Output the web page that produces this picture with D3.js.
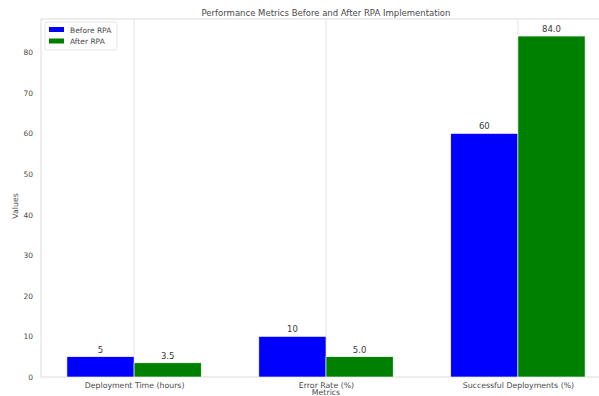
<!DOCTYPE html>
<html>
<head>
<meta charset="utf-8">
<script src="https://cdn.jsdelivr.net/npm/d3@7"></script>
<style>
  body { margin: 0; background: #fff; }
  svg { font-family: "DejaVu Sans", sans-serif; display: block; }
</style>
</head>
<body>
<div id="chart"></div>
<script>
// chart data
const metrics = ["Deployment Time (hours)", "Error Rate (%)", "Successful Deployments (%)"];
const beforeValues = [5, 10, 60];
const afterValues = [3.5, 5.0, 84.0];
const beforeLabels = ["5", "10", "60"];
const afterLabels = ["3.5", "5.0", "84.0"];
const yTicks = [0, 10, 20, 30, 40, 50, 60, 70, 80];
const seriesNames = ["Before RPA", "After RPA"];
const seriesColors = ["#0000ff", "#008000"];

const width = 599;
const height = 396;
// plot area runs past the right edge (reference image is cropped)
const plotLeft = 41, plotRight = 611, plotTop = 19, plotBottom = 377;
const barWidth = 0.35;

const svg = d3.select("#chart").append("svg")
  .attr("width", width)
  .attr("height", height);

const x = d3.scaleLinear()
  .domain([-0.485, metrics.length - 1 + 0.485])
  .range([plotLeft, plotRight]);

const y = d3.scaleLinear()
  .domain([0, 84 * 1.05])
  .range([plotBottom, plotTop]);

// vertical grid lines at the category ticks
svg.append("g")
  .selectAll("line")
  .data(metrics)
  .enter()
  .append("line")
  .attr("x1", (d, i) => x(i))
  .attr("x2", (d, i) => x(i))
  .attr("y1", plotTop)
  .attr("y2", plotBottom)
  .attr("stroke", "#e3e3e3")
  .attr("stroke-width", 1);

// frame
svg.append("rect")
  .attr("x", plotLeft)
  .attr("y", plotTop)
  .attr("width", plotRight - plotLeft)
  .attr("height", plotBottom - plotTop)
  .attr("fill", "none")
  .attr("stroke", "#dcdcdc")
  .attr("stroke-width", 1);

const series = [beforeValues, afterValues];
const labels = [beforeLabels, afterLabels];

series.forEach((values, s) => {
  const offset = s === 0 ? -barWidth / 2 : barWidth / 2;
  svg.append("g")
    .selectAll("rect")
    .data(values)
    .enter()
    .append("rect")
    .attr("x", (d, i) => x(i + offset - barWidth / 2))
    .attr("width", x(barWidth) - x(0))
    .attr("y", (d) => y(d))
    .attr("height", (d) => y(0) - y(d))
    .attr("fill", seriesColors[s])
    .attr("stroke", "#ffffff")
    .attr("stroke-width", 0.6);

  svg.append("g")
    .selectAll("text")
    .data(values)
    .enter()
    .append("text")
    .attr("x", (d, i) => x(i + offset))
    .attr("y", (d) => y(d) - 4)
    .attr("text-anchor", "middle")
    .attr("font-size", "8.5px")
    .attr("fill", "#3a3a3a")
    .text((d, i) => labels[s][i]);
});

// y axis
const yAxis = svg.append("g")
  .attr("transform", `translate(${plotLeft},0)`)
  .call(d3.axisLeft(y).tickValues(yTicks).tickSize(0).tickPadding(8));
yAxis.select(".domain").remove();
yAxis.selectAll("text")
  .attr("font-size", "7.5px")
  .attr("fill", "#4a4a4a")
  .attr("font-family", "DejaVu Sans, sans-serif");

// x axis
const xAxis = svg.append("g")
  .attr("transform", `translate(0,${plotBottom})`)
  .call(d3.axisBottom(x).tickValues(d3.range(metrics.length)).tickFormat((d) => metrics[d]).tickSize(0).tickPadding(5));
xAxis.select(".domain").remove();
xAxis.selectAll("text")
  .attr("font-size", "7.8px")
  .attr("fill", "#4a4a4a")
  .attr("font-family", "DejaVu Sans, sans-serif");

// axis titles
svg.append("text")
  .attr("x", (plotLeft + plotRight) / 2)
  .attr("y", 395)
  .attr("text-anchor", "middle")
  .attr("font-size", "7.8px")
  .attr("fill", "#4a4a4a")
  .text("Metrics");

svg.append("text")
  .attr("transform", `translate(18,${(plotTop + plotBottom) / 2 + 8}) rotate(-90)`)
  .attr("text-anchor", "middle")
  .attr("font-size", "7.8px")
  .attr("fill", "#4a4a4a")
  .text("Values");

svg.append("text")
  .attr("x", (plotLeft + plotRight) / 2)
  .attr("y", 16)
  .attr("text-anchor", "middle")
  .attr("font-size", "8.5px")
  .attr("fill", "#4a4a4a")
  .text("Performance Metrics Before and After RPA Implementation");

// legend
const legend = svg.append("g").attr("transform", `translate(45,22)`);
legend.append("rect")
  .attr("width", 72)
  .attr("height", 28)
  .attr("rx", 2)
  .attr("fill", "#fff")
  .attr("stroke", "#e4e4e4");
seriesNames.forEach((name, i) => {
  legend.append("rect")
    .attr("x", 4)
    .attr("y", 5 + i * 11.5)
    .attr("width", 15)
    .attr("height", 5)
    .attr("fill", seriesColors[i]);
  legend.append("text")
    .attr("x", 25)
    .attr("y", 10.5 + i * 11.5)
    .attr("font-size", "7.5px")
    .attr("fill", "#4a4a4a")
    .text(name);
});
</script>
</body>
</html>
